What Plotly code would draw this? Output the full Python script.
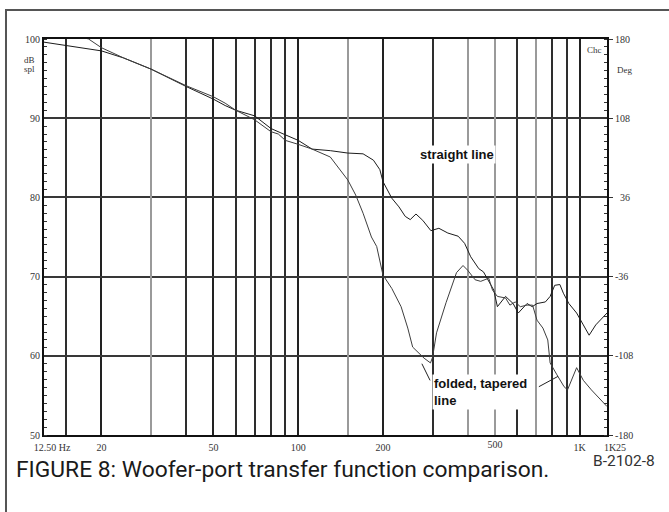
import numpy as np
import plotly.graph_objects as go

# ---------------- data ----------------
freq_straight = [12.5, 15, 20, 24, 30, 40, 50, 55, 60, 70, 80, 90, 100, 112, 130, 150, 170, 185,
                 195, 200, 208, 215, 228, 240, 250, 262, 277, 296, 316, 340, 370, 390, 410, 438,
                 455, 475, 495, 510, 545, 580, 605, 650, 678, 705, 755, 785, 815, 850, 875, 915,
                 975, 1030, 1080, 1140, 1250]
db_straight = [99.6, 99.2, 98.5, 97.6, 96.2, 94.0, 92.4, 91.6, 91.0, 90.3, 88.7, 87.9, 87.2, 86.1,
               85.9, 85.6, 85.5, 84.7, 83.5, 82.0, 80.8, 79.9, 78.8, 77.6, 77.2, 77.9, 77.1, 75.8,
               76.1, 75.5, 75.1, 74.2, 72.5, 71.0, 70.6, 69.4, 68.3, 66.2, 67.5, 66.6, 65.4, 66.6,
               66.2, 66.6, 66.8, 67.5, 68.9, 69.0, 67.9, 66.6, 65.4, 63.9, 62.6, 63.9, 65.4]

freq_folded = [12.5, 15, 18, 20, 24, 30, 40, 50, 55, 60, 70, 80, 85, 90, 100, 112, 130, 150, 160,
               170, 182, 190, 200, 215, 232, 245, 255, 280, 295, 300, 310, 335, 365, 385, 400,
               425, 445, 475, 490, 510, 545, 565, 590, 615, 650, 680, 705, 740, 770, 785, 830,
               880, 905, 940, 975, 1030, 1100, 1250]
db_folded = [101.5, 100.8, 100.0, 98.9, 97.6, 96.2, 94.1, 92.7, 91.9, 91.0, 89.8, 88.3, 88.0, 87.2,
             86.7, 86.1, 85.1, 82.2, 80.3, 78.0, 75.0, 73.8, 70.2, 68.5, 66.2, 63.5, 61.1, 59.7,
             59.1, 59.8, 62.9, 66.7, 70.5, 71.4, 70.8, 69.6, 69.4, 69.8, 68.3, 67.5, 67.3, 66.4,
             66.8, 66.2, 66.4, 66.4, 64.5, 63.5, 62.0, 59.1, 57.6, 56.1, 55.7, 57.2, 58.5, 56.9,
             55.7, 53.6]

x_tick_vals = [20, 50, 100, 200, 1000]
x_tick_text = ["20", "50", "100", "200", "1K"]
x_edge_vals = [12.5, 1250]
x_edge_text = ["12.50 Hz", "1K25"]
x_grid_dark = [15, 40, 60, 70, 80, 90, 300, 600, 800, 900]
x_grid_light = [30, 150, 400, 500, 700]
x_light_text = ["", "", "", "500", ""]

y_tick_vals = [50, 60, 70, 80, 90, 100]
deg_tick_vals = [-180, -108, -36, 36, 108, 180]
deg_tick_text = ["-180", "-108", "-36", "\u00a0\u00a036", "108", "180"]

leader_left_f = [275, 294]
leader_left_db = [59.0, 56.9]
leader_right_f = [716, 837]
leader_right_db = [56.1, 57.4]

# ---------------- figure ----------------
fig = go.Figure()
fig.add_trace(go.Scatter(x=freq_straight, y=db_straight, mode="lines",
                         line=dict(color="#1c1c1c", width=1), hoverinfo="skip", showlegend=False))
fig.add_trace(go.Scatter(x=freq_folded, y=db_folded, mode="lines",
                         line=dict(color="#3e3e3e", width=1), hoverinfo="skip", showlegend=False))
fig.add_trace(go.Scatter(x=leader_left_f, y=leader_left_db, mode="lines",
                         line=dict(color="#222", width=1), hoverinfo="skip", showlegend=False))
fig.add_trace(go.Scatter(x=leader_right_f, y=leader_right_db, mode="lines",
                         line=dict(color="#222", width=1), hoverinfo="skip", showlegend=False))
# axis carriers (invisible)
fig.add_trace(go.Scatter(x=[100], y=[0], xaxis="x2", yaxis="y2", mode="markers",
                         marker=dict(opacity=0), hoverinfo="skip", showlegend=False))
fig.add_trace(go.Scatter(x=[100], y=[70], xaxis="x3", yaxis="y", mode="markers",
                         marker=dict(opacity=0), hoverinfo="skip", showlegend=False))

tick_font = dict(family="Liberation Serif, DejaVu Serif, serif", size=10, color="#333")
xr = [np.log10(12.5), np.log10(1250)]

fig.update_layout(
    width=669, height=512,
    margin=dict(l=44, r=62, t=39, b=77),
    paper_bgcolor="white", plot_bgcolor="white",
    xaxis=dict(type="log", range=xr, tickmode="array", tickvals=x_tick_vals, ticktext=x_tick_text,
               showgrid=True, gridcolor="#222222", gridwidth=1.5, zeroline=False,
               minor=dict(tickmode="array", tickvals=x_grid_dark, showgrid=True,
                          gridcolor="#2e2e2e", gridwidth=1.5, ticks=""),
               ticks="", showline=True, linecolor="#111", linewidth=2, mirror=True,
               tickfont=tick_font, ticklabelstandoff=2),
    xaxis2=dict(type="log", range=xr, overlaying="x", side="bottom", tickmode="array",
                tickvals=x_grid_light, ticktext=x_light_text, showgrid=True,
                gridcolor="#9a9a9a", gridwidth=1.5, zeroline=False, ticks="",
                showline=False, tickfont=tick_font, ticklabelstandoff=2),
    xaxis3=dict(type="log", range=xr, overlaying="x", side="bottom", tickmode="array",
                tickvals=x_edge_vals, ticktext=x_edge_text, showgrid=False, zeroline=False,
                ticks="", showline=False, tickfont=tick_font, ticklabelstandoff=5,
                ticklabelshift=8),
    yaxis=dict(range=[50, 100], tickmode="array", tickvals=y_tick_vals, showgrid=True,
               gridcolor="#383838", gridwidth=1.5, zeroline=False, ticks="",
               showline=True, linecolor="#111", linewidth=2, tickfont=tick_font,
               minor=dict(dtick=1, ticks="inside", ticklen=3, tickcolor="#333", showgrid=False)),
    yaxis2=dict(range=[-180, 180], overlaying="y", side="right", tickmode="array",
                tickvals=deg_tick_vals, ticktext=deg_tick_text, showgrid=False, zeroline=False,
                ticks="outside", ticklen=4, tickcolor="#333", showline=True, linecolor="#111",
                linewidth=2, tickfont=tick_font,
                minor=dict(dtick=7.2, ticks="inside", ticklen=3, tickcolor="#333")),
)

ann_font_bold = dict(family="Liberation Sans, Arial, sans-serif", size=13, color="#111")
fig.add_annotation(x=np.log10(366), y=85.4, xref="x", yref="y", text="<b>straight line</b>",
                   showarrow=False, font=ann_font_bold, bgcolor="white")
fig.add_annotation(x=np.log10(298.6), y=55.4, xref="x", yref="y",
                   text="<b>folded, tapered<br>line</b>", showarrow=False, align="left",
                   xanchor="left", font=ann_font_bold, bgcolor="white")

small_font = dict(family="Liberation Serif, DejaVu Serif, serif", size=9, color="#333")
fig.add_annotation(x=-0.012, y=0.965, xref="paper", yref="paper", text="dB",
                   showarrow=False, xanchor="right", font=small_font)
fig.add_annotation(x=-0.012, y=0.942, xref="paper", yref="paper", text="spl",
                   showarrow=False, xanchor="right", font=small_font)
fig.add_annotation(x=1.014, y=0.94, xref="paper", yref="paper", text="Deg",
                   showarrow=False, xanchor="left", font=small_font)
fig.add_annotation(x=0.995, y=0.99, xref="paper", yref="paper", text="Chc",
                   showarrow=False, xanchor="right", yanchor="top", font=small_font,
                   bgcolor="white")

cap_font = dict(family="Roboto, sans-serif", size=22.8, color="#1a1a1a")
fig.add_annotation(x=-0.0535, y=-0.088, xref="paper", yref="paper",
                   text="FIGURE 8: Woofer-port transfer function comparison.",
                   showarrow=False, xanchor="left", yanchor="middle", font=cap_font)
fig.add_annotation(x=1.03, y=-0.066, xref="paper", yref="paper", text="B-2102-8",
                   showarrow=False, xanchor="center", yanchor="middle",
                   font=dict(family="Roboto, sans-serif", size=15.5, color="#333"))

# outer frame
fig.add_shape(type="rect", xref="paper", yref="paper", x0=-0.0675, x1=2, y0=-1, y1=1.073,
              line=dict(color="#555", width=2), fillcolor="rgba(0,0,0,0)", layer="below")

fig.write_html("out.html", post_script="document.body.style.margin='0px';",
               config={"displayModeBar": False})
